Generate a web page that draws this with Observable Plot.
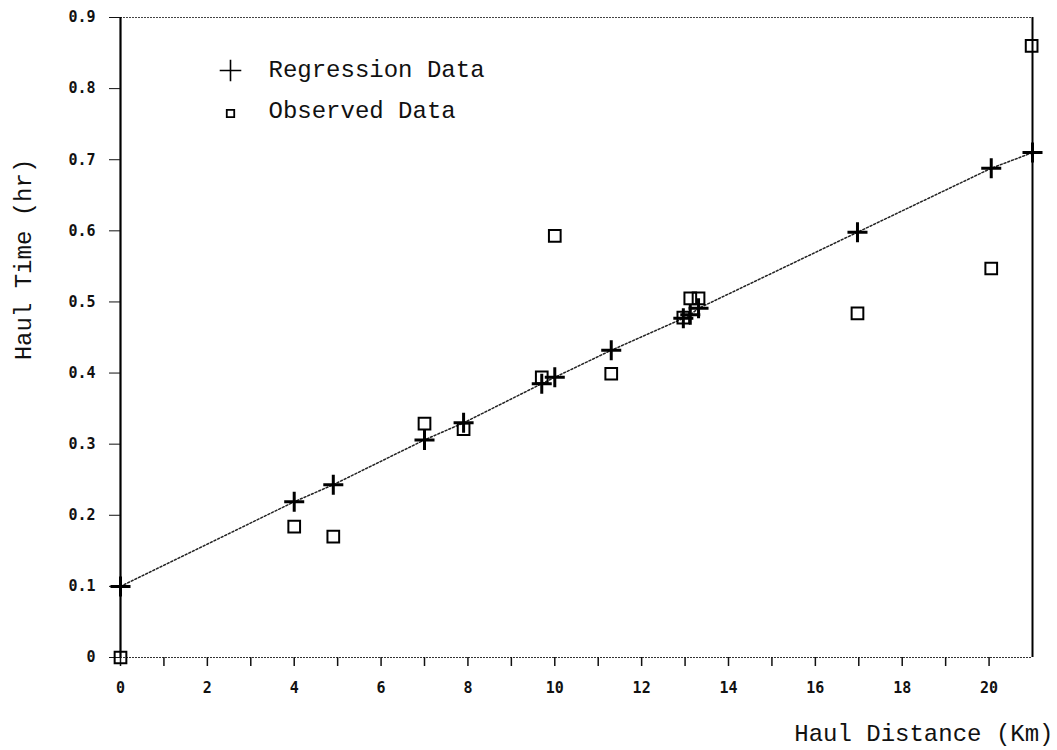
<!DOCTYPE html>
<html>
<head>
<meta charset="utf-8">
<script src="https://cdn.jsdelivr.net/npm/d3@7"></script>
<script src="https://cdn.jsdelivr.net/npm/@observablehq/plot@0.6"></script>
<style>
  html, body { margin: 0; padding: 0; background: #fff; }
  #chart svg { display: block; }
</style>
</head>
<body>
<div id="chart"></div>
<script>
// Haul distance (km) for each point
const regressionX = [0, 4.0, 4.9, 7.0, 7.9, 9.7, 10.0, 11.3, 12.96, 13.12, 13.31, 16.97, 20.05, 21.0];
// Regression (predicted) haul time (hr)
const regressionY = [0.100, 0.219, 0.243, 0.306, 0.330, 0.385, 0.394, 0.432, 0.477, 0.482, 0.491, 0.598, 0.688, 0.710];

const observedX = [0, 4.0, 4.9, 7.0, 7.9, 9.7, 10.0, 11.3, 12.96, 13.12, 13.31, 16.97, 20.05, 20.98];
// Observed haul time (hr)
const observedY = [0.000, 0.184, 0.170, 0.329, 0.321, 0.394, 0.593, 0.399, 0.478, 0.505, 0.505, 0.484, 0.547, 0.860];

const xTicks = [0, 2, 4, 6, 8, 10, 12, 14, 16, 18, 20];
const xTickLabels = ["0", "2", "4", "6", "8", "10", "12", "14", "16", "18", "20"];
const xMinorTicks = [1, 3, 5, 7, 9, 11, 13, 15, 17, 19];
const yTicks = [0, 0.1, 0.2, 0.3, 0.4, 0.5, 0.6, 0.7, 0.8, 0.9];
const yTickLabels = ["0", "0.1", "0.2", "0.3", "0.4", "0.5", "0.6", "0.7", "0.8", "0.9"];

const seriesNames = ["Regression Data", "Observed Data"];
const xTitle = "Haul Distance (Km)";
const yTitle = "Haul Time (hr)";

const regression = regressionX.map((x, i) => ({x, y: regressionY[i]}));
const observed = observedX.map((x, i) => ({x, y: observedY[i]}));

const labelFont = "Liberation Mono, Courier New, monospace";
const tickFont = "DejaVu Sans Mono, monospace";

const chart = Plot.plot({
  width: 1057,
  height: 750,
  marginLeft: 120,
  marginRight: 25,
  marginTop: 17,
  marginBottom: 93,
  style: {fontFamily: tickFont, background: "#fff", color: "#111"},
  x: {domain: [0, 21]},
  y: {domain: [0, 0.9]},
  marks: [
    // frame
    Plot.ruleY([0.9], {stroke: "#444", strokeWidth: 1, strokeDasharray: "2,1"}),
    Plot.ruleY([0], {stroke: "#333", strokeWidth: 1, strokeDasharray: "2,1"}),
    Plot.ruleX([0], {stroke: "#000", strokeWidth: 2.2}),
    Plot.ruleX([21], {stroke: "#000", strokeWidth: 2}),
    // axis ticks
    Plot.axisX(xTicks.concat(xMinorTicks), {tickSize: 9, strokeWidth: 1.5, tickFormat: () => "", label: null}),
    Plot.axisY(yTicks, {tickSize: 11, strokeWidth: 1, tickFormat: () => "", label: null}),
    // tick labels
    Plot.text(xTicks, {x: (d) => d, frameAnchor: "bottom", dy: 31, text: (d, i) => xTickLabels[i],
      textAnchor: "middle", lineAnchor: "middle", fontSize: 15, fontWeight: "bold", fontFamily: tickFont, fill: "#111"}),
    Plot.text(yTicks, {y: (d) => d, frameAnchor: "left", dx: -25, text: (d, i) => yTickLabels[i],
      textAnchor: "end", lineAnchor: "middle", fontSize: 15, fontWeight: "bold", fontFamily: tickFont, fill: "#111"}),
    // regression line
    Plot.line(regression, {x: "x", y: "y", stroke: "#222", strokeWidth: 1.5, strokeDasharray: "2,2"}),
    // observed squares
    Plot.dot(observed, {x: "x", y: "y", symbol: "square", r: 6.6, stroke: "#000", strokeWidth: 2, fill: "none"}),
    // regression pluses
    Plot.dot(regression, {x: "x", y: "y", symbol: "plus", r: 6.5, stroke: "#000", strokeWidth: 3}),
    // legend
    Plot.dot([seriesNames[0]], {frameAnchor: "top-left", dx: 110, dy: 53, symbol: "plus", r: 7, stroke: "#000", strokeWidth: 1.6}),
    Plot.dot([seriesNames[1]], {frameAnchor: "top-left", dx: 110, dy: 96, symbol: "square", r: 4.2, stroke: "#000", strokeWidth: 1.8, fill: "none"}),
    Plot.text([seriesNames[0]], {frameAnchor: "top-left", dx: 148, dy: 52, text: (d) => d, textAnchor: "start", lineAnchor: "middle", fontSize: 24, fontFamily: labelFont, fill: "#111"}),
    Plot.text([seriesNames[1]], {frameAnchor: "top-left", dx: 148, dy: 93, text: (d) => d, textAnchor: "start", lineAnchor: "middle", fontSize: 24, fontFamily: labelFont, fill: "#111"}),
    // axis titles
    Plot.text([yTitle], {frameAnchor: "left", dx: -97, dy: -78, rotate: -90, text: (d) => d, textAnchor: "middle", lineAnchor: "middle", fontSize: 24, fontFamily: labelFont, fill: "#111"}),
    Plot.text([xTitle], {frameAnchor: "bottom-right", dx: 21, dy: 76, text: (d) => d, textAnchor: "end", lineAnchor: "middle", fontSize: 24, fontFamily: labelFont, fill: "#111"})
  ]
});
document.getElementById("chart").appendChild(chart);
</script>
</body>
</html>
